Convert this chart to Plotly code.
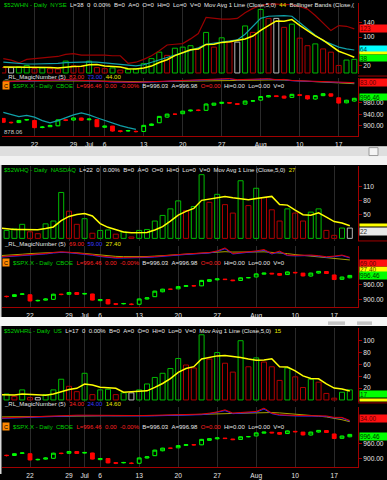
import plotly.graph_objects as go

W, H = 387, 480

# ---------------- data ----------------
dates = ["2009-06-16", "2009-06-17", "2009-06-18", "2009-06-19", "2009-06-22", "2009-06-23",
         "2009-06-24", "2009-06-25", "2009-06-26", "2009-06-29", "2009-06-30", "2009-07-01",
         "2009-07-02", "2009-07-06", "2009-07-07", "2009-07-08", "2009-07-09", "2009-07-10",
         "2009-07-13", "2009-07-14", "2009-07-15", "2009-07-16", "2009-07-17", "2009-07-20",
         "2009-07-21", "2009-07-22", "2009-07-23", "2009-07-24", "2009-07-27", "2009-07-28",
         "2009-07-29", "2009-07-30", "2009-07-31", "2009-08-03", "2009-08-04", "2009-08-05",
         "2009-08-06", "2009-08-07", "2009-08-10", "2009-08-11", "2009-08-12", "2009-08-13",
         "2009-08-14", "2009-08-17", "2009-08-18", "2009-08-19"]
tick_dates = ["2009-06-22", "2009-06-29", "2009-07-01", "2009-07-06", "2009-07-13",
              "2009-07-20", "2009-07-27", "2009-08-03", "2009-08-10", "2009-08-17"]
tick_text = ["22", "29", "Jul", "6", "13", "20", "27", "Aug", "10", "17"]

# $52WHN NYSE new highs
nyse_prior = 20
nyse = [15, 15, 17, 21, 12, 14, 12, 11, 33, 20, 18, 33, 15, 12, 14, 8, 10, 12, 26, 40,
        58, 49, 69, 72, 76, 67, 113, 72, 98, 86, 86, 131, 113, 177, 152, 152, 127, 136, 97, 76,
        81, 67, 58, 21, 36, 38]
nyse_ma = [17, 17, 16, 16, 16, 15.8, 15.2, 14, 16.4, 18, 18.8, 23, 23.8, 19.6, 18.4, 16.4,
           11.8, 11.2, 14, 19.2, 29.2, 37, 48.4, 57.6, 64.8, 66.6, 79.4, 80, 85.2, 87.2, 91,
           94.6, 102.8, 118.6, 131.8, 145, 144.2, 148.8, 132.8, 117.6, 103.4, 91.4, 75.8,
           60.6, 52.6, 44]
nyse_bb_upper = [40, 36, 28, 38, 40, 42, 44, 46, 52, 54, 50, 50, 52, 50, 48, 48, 27, 30, 38, 48,
                 62, 78, 80, 82, 95, 110, 155, 152, 150, 150, 152, 168, 180, 188, 192, 192, 190,
                 190, 185, 178, 160, 140, 118, 132, 130, 123]
nyse_bb_mid = [30, 28, 26, 25, 25, 25, 26, 27, 29, 30, 31, 31, 30, 28, 26, 24, 21, 20, 23, 30,
               38, 44, 50, 56, 62, 70, 80, 83, 85, 87, 92, 108, 130, 152, 158, 160, 160, 158,
               140, 122, 105, 90, 80, 72, 67, 64]
nyse_magic_red = [120, 125, 132, 140, 150, 160, 170, 180, 190, 182, 172, 160, 148, 130, 112, 102,
                  100, 100, 105, 115, 125, 135, 145, 155, 165, 175, 185, 190, 200, 230, 190, 195,
                  205, 215, 225, 190, 200, 160, 150, 150, 150, 140, 120, 110, 100, 83]
nyse_magic_blue = [110, 115, 122, 130, 140, 150, 160, 170, 180, 172, 162, 150, 138, 120, 102, 92,
                   90, 90, 95, 105, 115, 125, 135, 145, 155, 165, 175, 180, 190, 218, 180, 185,
                   195, 205, 213, 180, 190, 150, 140, 140, 140, 130, 110, 100, 90, 73]
nyse_magic_yel = [140, 142, 146, 150, 154, 158, 160, 162, 162, 160, 156, 150, 144, 136, 128, 122,
                  118, 116, 116, 118, 122, 128, 134, 140, 146, 152, 158, 164, 170, 176, 178, 180,
                  182, 184, 186, 182, 176, 164, 150, 136, 120, 104, 88, 72, 58, 44]
spx_band_low = [947, 940, 932, 936, 930, 918, 910, 918, 928, 938, 945, 938, 928, 918, 908, 900,
                893, 887]

# $52WHQ NASDAQ new highs
nasdaq_prior = 20
nasdaq = [15, 17, 20, 30, 14, 10, 31, 37, 98, 58, 30, 42, 11, 17, 18, 9, 14, 3, 17, 19, 37, 49,
          63, 80, 59, 68, 136, 77, 94, 72, 54, 123, 70, 107, 87, 61, 37, 63, 54, 37, 56, 63, 17,
          6.5, 22, 22]
nasdaq_ma = [22, 20, 19, 19, 19.2, 18.2, 21, 24.4, 38, 46.8, 50.8, 53, 47.8, 31.6, 23.6, 19.4,
             13.8, 12.2, 12.2, 12.4, 18, 25, 37, 49.6, 57.6, 63.8, 81.2, 84, 86.8, 89.4, 86.6,
             84, 82.6, 85.2, 88.2, 89.6, 72.4, 71, 60.4, 50.4, 49.4, 54.6, 45.4, 35.9, 32.9, 27]
nasdaq_magic_red = [78, 85, 92, 100, 105, 115, 130, 145, 156, 150, 140, 130, 110, 90, 72, 65, 67,
                    67, 67, 75, 82, 89, 100, 112, 122, 130, 138, 145, 170, 218, 130, 140, 156,
                    170, 192, 130, 167, 105, 100, 102, 105, 95, 78, 88, 105, 69]
nasdaq_magic_blue = [70, 77, 84, 92, 97, 107, 122, 137, 148, 142, 132, 122, 102, 82, 64, 57, 59,
                     59, 59, 67, 74, 81, 92, 104, 114, 122, 130, 137, 162, 205, 122, 132, 148,
                     162, 180, 122, 155, 97, 92, 94, 97, 87, 70, 80, 97, 59]
nasdaq_magic_yel = [95, 100, 108, 118, 128, 136, 142, 146, 148, 146, 140, 130, 118, 104, 92, 84,
                    80, 78, 78, 82, 88, 96, 106, 116, 126, 134, 140, 146, 152, 158, 152, 150,
                    152, 154, 156, 148, 142, 128, 112, 100, 90, 78, 64, 52, 40, 27.4]

# $52WHRL US new highs
us_prior = 10
us = [8, 10, 6, 17, 4, 4, 9, 17, 35, 23, 14, 45, 9, 17, 18, 9, 12, 12, 17, 27, 38, 45, 53, 70,
      59, 54, 110, 69, 80, 62, 47, 100, 56, 71, 64, 56, 33, 54, 39, 21, 35, 30, 11, 3, 13, 17]
us_ma = [9, 9, 8.5, 10, 9, 8.2, 8, 10.2, 13.8, 17.6, 19.6, 26.8, 25.2, 21.6, 20.6, 19.6, 13,
         13.6, 13.6, 15.4, 21.2, 27.8, 36, 46.6, 53, 56.2, 69.2, 72.4, 74.4, 75, 73.6, 71.6, 69,
         67.2, 67.6, 69.4, 56, 55.6, 49.2, 40.6, 36.4, 35.8, 27.2, 20, 18.4, 15]
us_magic_red = [73, 78, 84, 90, 96, 102, 108, 112, 114, 116, 118, 118, 116, 114, 114, 112, 110,
                110, 112, 114, 116, 118, 120, 122, 124, 125, 135, 150, 170, 203, 151, 160, 170,
                177, 230, 151, 125, 114, 114, 112, 114, 110, 106, 83, 83, 34]
us_magic_blue = [65, 70, 76, 82, 88, 94, 100, 104, 106, 108, 110, 110, 108, 106, 106, 104, 102,
                 102, 104, 106, 108, 110, 112, 114, 116, 117, 126, 140, 160, 190, 142, 150, 160,
                 166, 215, 142, 117, 106, 106, 104, 106, 102, 98, 76, 76, 24]
us_magic_yel = [90, 92, 95, 98, 100, 102, 104, 106, 108, 110, 112, 112, 111, 110, 109, 108, 107,
                107, 108, 110, 112, 114, 116, 118, 120, 122, 125, 130, 136, 142, 146, 150, 154,
                158, 162, 160, 154, 146, 136, 126, 116, 104, 90, 70, 46, 14.6]

# $SPX.X daily
spx_open = [925.6, 911.9, 910.9, 920.0, 918.1, 893.5, 896.3, 899.5, 920.5, 919.9, 927.1, 920.8,
            921.2, 894.3, 898.6, 881.9, 881.3, 880.0, 879.6, 900.8, 910.2, 930.2, 940.6, 942.1,
            952.0, 954.6, 954.1, 972.2, 978.6, 981.5, 977.7, 976.0, 986.8, 990.2, 1001.4,
            1005.4, 1004.1, 999.8, 1008.9, 1005.8, 994.0, 1005.9, 1012.2, 998.2, 980.6, 986.9]
spx_high = [927, 914, 920, 923, 919, 898, 903, 922, 922, 928, 928, 925, 922, 899, 899, 884, 885,
            883, 902, 907, 934, 942, 942, 952, 956, 957, 978, 980, 983, 982, 978, 988, 990, 1004,
            1007, 1006, 1006, 1012, 1010, 1006, 1007, 1014, 1013, 999, 991, 998]
spx_low = [910, 907, 909, 918, 891, 891, 895, 898, 916, 918, 917, 919, 895, 892, 879, 876, 879,
           876, 878, 899, 909, 928, 938, 941, 950, 951, 953, 971, 976, 978, 973, 975, 985, 989,
           1000, 1001, 995, 998, 1005, 992, 992, 1004, 1002, 978, 979, 985]
spx_close = [912.0, 910.7, 918.4, 921.2, 893.0, 895.1, 900.9, 920.3, 918.9, 927.2, 919.3, 923.3,
             896.4, 898.7, 881.0, 879.6, 882.7, 879.1, 901.1, 905.8, 932.7, 940.7, 940.4, 951.1,
             954.6, 954.1, 976.3, 979.3, 982.2, 979.6, 975.2, 986.8, 987.5, 1002.6, 1005.7,
             1002.7, 997.1, 1010.5, 1007.1, 994.4, 1005.8, 1012.7, 1004.1, 979.7, 989.7, 996.46]
spx_low_mark = 878.06

# ---------------- styling helpers ----------------
FONT = "Liberation Sans, Arial, sans-serif"
GREEN, RED, GREY = "#00bc00", "#b00000", "#b8b8b8"
TXT = "#e6e6e6"
GTXT = "#00d000"
RTXT = "#ff2020"
BTXT = "#3838ff"
YTXT = "#e8e800"
NB = "\u00a0"
HSIZE = 6.0

idx = list(range(len(dates)))
tickvals = [dates.index(d) for d in tick_dates]


def ydom(top, bottom):
    return [1 - bottom / H, 1 - top / H]


def py(y):
    return 1 - y / H


def px(x):
    return x / W


X_LEFT, X_RIGHT = 2, 358
STEP = 7.8


def xr(first_center):
    return [(X_LEFT - first_center) / STEP, (X_RIGHT - first_center) / STEP]


def colors(vals, prior):
    out, prev = [], prior
    for v in vals:
        out.append(GREEN if v > prev else RED if v < prev else GREY)
        prev = v
    return out


def span(t, c):
    return f'<span style="color:{c}">{t}</span>'


def join(parts):
    return (NB * 2).join(span(t, c) for t, c in parts)


fig = go.Figure()

panels = [
    dict(x="x", yb="y", ym="y2", ys="y3", vals=nyse, prior=nyse_prior, ma=nyse_ma,
         mr=nyse_magic_red, mb=nyse_magic_blue, my=nyse_magic_yel),
    dict(x="x2", yb="y4", ym="y5", ys="y6", vals=nasdaq, prior=nasdaq_prior, ma=nasdaq_ma,
         mr=nasdaq_magic_red, mb=nasdaq_magic_blue, my=nasdaq_magic_yel),
    dict(x="x3", yb="y7", ym="y8", ys="y9", vals=us, prior=us_prior, ma=us_ma,
         mr=us_magic_red, mb=us_magic_blue, my=us_magic_yel),
]

for i, p in enumerate(panels):
    fig.add_trace(go.Bar(x=idx, y=p["vals"], width=0.64, xaxis=p["x"], yaxis=p["yb"],
                         marker=dict(color="rgba(0,0,0,0)",
                                     line=dict(color=colors(p["vals"], p["prior"]), width=1))))
    if i == 0:
        fig.add_trace(go.Scatter(x=idx, y=nyse_bb_upper, mode="lines", xaxis="x", yaxis="y",
                                 line=dict(color="#9a0000", width=1.2)))
        fig.add_trace(go.Scatter(x=idx, y=nyse_bb_mid, mode="lines", xaxis="x", yaxis="y",
                                 line=dict(color="#10a0a8", width=1.2)))
    fig.add_trace(go.Scatter(x=idx, y=p["ma"], mode="lines", xaxis=p["x"], yaxis=p["yb"],
                             line=dict(color="#ffff00", width=1.5)))
    fig.add_trace(go.Scatter(x=idx, y=p["my"], mode="lines", xaxis=p["x"], yaxis=p["ym"],
                             line=dict(color="#a8a000", width=1)))
    fig.add_trace(go.Scatter(x=idx, y=p["mb"], mode="lines", xaxis=p["x"], yaxis=p["ym"],
                             line=dict(color="#2828ff", width=1)))
    fig.add_trace(go.Scatter(x=idx, y=p["mr"], mode="lines", xaxis=p["x"], yaxis=p["ym"],
                             line=dict(color="#e00000", width=1)))
    fig.add_trace(go.Candlestick(x=idx, open=spx_open, high=spx_high, low=spx_low,
                                 close=spx_close, xaxis=p["x"], yaxis=p["ys"], whiskerwidth=0,
                                 increasing=dict(line=dict(color="#00ff00", width=1),
                                                 fillcolor="#000000"),
                                 decreasing=dict(line=dict(color="#ff0000", width=1),
                                                 fillcolor="#ff0000")))
    if i == 0:
        fig.add_trace(go.Scatter(x=idx[:len(spx_band_low)], y=spx_band_low, mode="lines",
                                 xaxis="x", yaxis="y3", line=dict(color="#10a0a8", width=1.2)))

# ---------------- axes ----------------
geo = [
    dict(first=3.3, b=(3, 75), m=(79, 86), s=(84, 138), br=[-3, 195], sr=[862.6, 1050.6],
         bt=[20, 100, 140], st=[900, 940, 980]),
    dict(first=-1.2, b=(168, 244), m=(249, 265), s=(262, 311), br=[-5.5, 154.7], sr=[868, 1064],
         bt=[50, 80, 110], st=[900, 960]),
    dict(first=-1.2, b=(332, 407), m=(412, 428), s=(428, 473), br=[-3.3, 121.7], sr=[864, 1044],
         bt=[20, 40, 60, 80, 100], st=[900, 960]),
]
tickfont = dict(family=FONT, size=6.6, color=TXT)
AXRED = "#a00000"
layout = {}
for i, (p, g) in enumerate(zip(panels, geo)):
    xn = "xaxis" if i == 0 else f"xaxis{i + 1}"
    layout[xn] = dict(domain=[px(X_LEFT), px(X_RIGHT)], range=xr(g["first"]), anchor=p["ys"],
                      tickvals=tickvals, ticktext=tick_text, tickfont=tickfont,
                      ticks="outside", ticklen=2, tickcolor="rgba(0,0,0,0)",
                      showgrid=True, gridcolor="#2a2a2a", gridwidth=1, zeroline=False,
                      showline=True, linecolor=AXRED, linewidth=1,
                      rangeslider=dict(visible=False), fixedrange=True)
    for key, d, r, tv in [(p["yb"], g["b"], g["br"], g["bt"]), (p["ym"], g["m"], [0, 250], []),
                          (p["ys"], g["s"], g["sr"], g["st"])]:
        name = "yaxis" if key == "y" else "yaxis" + key[1:]
        is_spx = key == p["ys"]
        layout[name] = dict(domain=ydom(*d), range=r, anchor=p["x"], side="right",
                            tickvals=tv, ticktext=[f"{v:.2f}" if is_spx else str(v) for v in tv],
                            tickfont=tickfont, ticks="outside" if tv else "", ticklen=3,
                            tickcolor=AXRED, showgrid=False, zeroline=False, showline=True,
                            linecolor=AXRED, linewidth=1, fixedrange=True)

# ---------------- text ----------------
ann = []


def text(x, y, t, size=HSIZE):
    ann.append(dict(xref="paper", yref="paper", x=px(x), y=py(y), xanchor="left",
                    yanchor="middle", text=t, showarrow=False,
                    font=dict(family=FONT, size=size, color=TXT)))


stat = [("0", TXT), ("0.00%", TXT), ("B=0", TXT), ("A=0", TXT), ("O=0", TXT), ("Hi=0", TXT),
        ("Lo=0", TXT), ("V=0", TXT), ("Mov Avg 1 Line (Close,5,0)", TXT)]
text(2, 5, join([("$52WHN - Daily" + NB * 2 + "NYSE", GTXT), ("L=38", TXT)] + stat +
                [("44", YTXT), ("Bollinger Bands (Close,(", TXT)]))
text(2, 172, join([("$52WHQ - Daily" + NB * 2 + "NASDAQ", GTXT), ("L=22", TXT)] + stat +
                  [("27", YTXT)]))
text(2, 335, join([("$52WHRL - Daily" + NB * 2 + "US", GTXT), ("L=17", TXT)] + stat +
                  [("15", YTXT)]))

for y, vals in [(78, ("83.00", "73.00", "44.00")), (247, ("69.00", "59.00", "27.40")),
                (409, ("34.00", "24.00", "14.60"))]:
    text(2, y, join([("_RL_MagicNumber (5)", TXT), (vals[0], RTXT), (vals[1], BTXT),
                     (vals[2], YTXT)]))

spx_hdr = join([("$SPX.X - Daily" + NB * 2 + "CBOE", GTXT), ("L=996.46", RTXT), ("0.00", RTXT),
                ("-0.00%", RTXT), ("B=996.03", TXT), ("A=996.98", TXT), ("O=0.00", RTXT),
                ("Hi=0.00", TXT), ("Lo=0.00", TXT), ("V=0", TXT)])
for y in (87, 266, 432):
    ann.append(dict(xref="paper", yref="paper", x=px(2), y=py(y), xanchor="left",
                    yanchor="middle", text="C", showarrow=False, bgcolor="#ff8800",
                    width=6, height=7, borderpad=0,
                    font=dict(family=FONT, size=5.5, color="#000000")))
    text(11, y, spx_hdr)

ann.append(dict(xref="paper", yref="y3", x=px(2), y=spx_low_mark, xanchor="left",
                yanchor="middle", text=f"{spx_low_mark:.2f}", showarrow=False,
                font=dict(family=FONT, size=HSIZE, color="#c8c8c8")))


def box(yref, val, label, bg, fg="#400000", yshift=0, height=7):
    ann.append(dict(xref="paper", yref=yref, x=px(X_RIGHT + 0.5), y=val, xanchor="left",
                    yanchor="middle", text=label, showarrow=False, bgcolor=bg, width=28,
                    height=height, borderpad=0, align="left", yshift=yshift,
                    font=dict(family=FONT, size=6.4, color=fg)))


# value flags in the price-scale column (hidden flags only show as thin strips)
box("y", nyse_bb_upper[-1], str(nyse_bb_upper[-1]), "#ff1010", "#600000")
box("y", nyse_bb_mid[-1], str(nyse_bb_mid[-1]), "#00ffff", "#004040", yshift=1)
box("y", nyse_ma[-1], NB, "#ffff00", yshift=4, height=2)
box("y", nyse[-1], str(nyse[-1]), "#00ff00", "#004000", yshift=1.5, height=6)
box("y2", nyse_magic_red[-1], "83.00", "#ff1010", "#600000")
box("y3", spx_close[-1], "996.46", "#00ff00", "#003000", yshift=1.5, height=6)
box("y4", nasdaq_ma[-1], NB, "#ffff00", yshift=1, height=2)
box("y4", nasdaq[-1], str(nasdaq[-1]), "#e8e8e8", "#303030", yshift=-3)
box("y5", nasdaq_magic_yel[-1], "27.40", "#ffff00", "#404000", yshift=-9.5, height=5)
box("y5", nasdaq_magic_red[-1], "69.00", "#ff1010", "#600000", yshift=-5.5, height=6)
box("y6", spx_close[-1], "996.46", "#00ff00", "#003000")
box("y7", us[-1], str(us[-1]), "#00ff00", "#004000", yshift=-4.5, height=6)
box("y7", us_ma[-1], NB, "#ffff00", yshift=-9, height=2)
box("y8", us_magic_red[-1], "34.00", "#ff1010", "#600000", yshift=2)
box("y9", spx_close[-1], "996.46", "#00ff00", "#003000", yshift=-2)

# ---------------- frame decorations ----------------
shapes = []


def rect(x0, y0, x1, y1, fill, line=None):
    shapes.append(dict(type="rect", xref="paper", yref="paper", x0=px(x0), x1=px(x1),
                       y0=py(y1), y1=py(y0), fillcolor=fill, layer="above",
                       line=dict(width=1 if line else 0, color=line or fill)))


def hline(x0, x1, y, color=AXRED):
    shapes.append(dict(type="line", xref="paper", yref="paper", x0=px(x0), x1=px(x1),
                       y0=py(y), y1=py(y), line=dict(color=color, width=1), layer="above"))


rect(0, 148, W, 167, "#f2f2f2")
rect(0, 149, W, 158, "#dedede")
rect(369, 149.5, 378, 157.5, "#f4f4f4", "#9a9a9a")
rect(0, 321, W, 330, "#f6f6f6")
rect(328, 325.5, 345, 329, "#c4c4c4")
rect(357, 325.5, 372, 329, "#c4c4c4")
rect(0, 167, 1.5, 321, "#d8d8d8")
rect(0, 330, 1.5, H, "#d8d8d8")
for y in (77, 244, 408):
    hline(X_RIGHT, W, y)

fig.update_layout(
    width=W, height=H, margin=dict(l=0, r=0, t=0, b=0),
    paper_bgcolor="#000000", plot_bgcolor="rgba(0,0,0,0)",
    showlegend=False, hovermode=False,
    annotations=ann, shapes=shapes,
    font=dict(family=FONT, size=7, color=TXT),
    **layout,
)

fig.write_html("out.html", config={"displayModeBar": False, "staticPlot": True})
